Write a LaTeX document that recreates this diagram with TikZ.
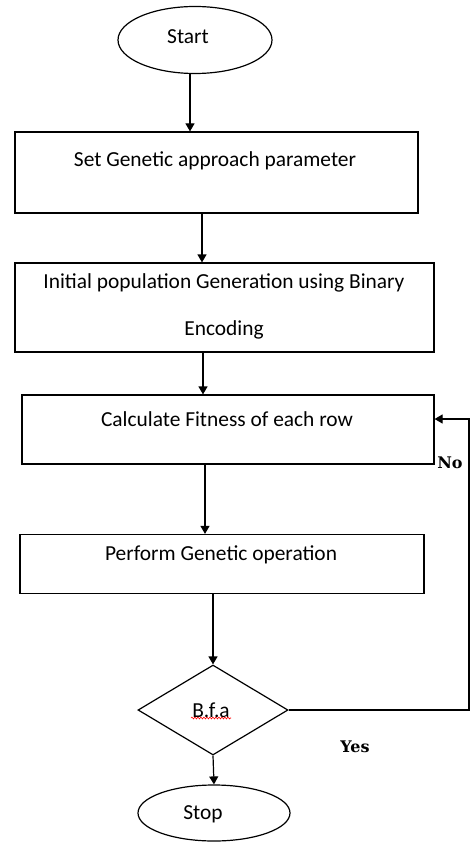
\documentclass[tikz,border=0pt]{standalone}
\usepackage{fontspec}
\setmainfont{Carlito}
\newfontfamily\lblfont{DejaVu Serif}
\usetikzlibrary{shapes.geometric,arrows.meta,decorations.pathmorphing}
\tikzset{
  boxnode/.style={draw, line width=1.2pt, rectangle, inner sep=0pt},
  txt/.style={inner sep=0pt, font=\fontsize{21.4}{25}\selectfont},
  lbl/.style={inner sep=0pt, font=\lblfont\bfseries\fontsize{16}{19}\selectfont},
  term/.style={draw, line width=1.2pt, ellipse, inner sep=0pt},
  arr/.style={line width=1.2pt, -{Triangle[width=9pt,length=8pt]}},
}
\begin{document}
\begin{tikzpicture}[x=1pt,y=-1pt]
\fill[white] (0,0) rectangle (471,845);
\useasboundingbox (0,0) rectangle (471,845);

\node[term, minimum width=154pt, minimum height=67pt] (start) at (195,40) {};
\node[txt] (tstart) at (188,37) {Start};

\node[boxnode, minimum width=403pt, minimum height=81pt] (box1) at (216.5,172.5) {};
\node[txt] (t1) at (215,161) {Set Genetic approach parameter};

\node[boxnode, minimum width=419pt, minimum height=89pt] (box2) at (224.5,307.5) {};
\node[txt] (t2a) at (224,283) {Initial population Generation using Binary};
\node[txt] (t2b) at (224,330) {Encoding};

\node[boxnode, minimum width=412pt, minimum height=69pt] (box3) at (228,429.5) {};
\node[txt] (t3) at (227,419) {Calculate Fitness of each row};

\node[boxnode, minimum width=404pt, minimum height=59pt] (box4) at (222,564) {};
\node[txt] (t4) at (221,555) {Perform Genetic operation};

\node[draw, line width=1.2pt, diamond, inner sep=0pt, minimum width=150pt, minimum height=90pt] (dec) at (213,710) {};
\node[txt] (tdec) at (211,710) {B.f.a};
\coordinate (wl) at (191,718);
\coordinate (wr) at (231,718);
\draw[red, line width=0.6pt, decorate, decoration={snake, amplitude=0.9pt, segment length=3pt}] (wl) -- (wr);

\node[term, minimum width=152pt, minimum height=56pt] (stop) at (214,813) {};
\node[txt] (tstop) at (203,814) {Stop};

\node[lbl] (no) at (450,463) {No};
\node[lbl] (yes) at (355,747) {Yes};

\coordinate (c1) at (190,0);
\coordinate (c2) at (202,0);
\coordinate (c3) at (203,0);
\coordinate (c4) at (205,0);
\coordinate (loopx) at (469,0);

\draw[arr] (start.south -| c1) -- (box1.north -| c1);
\draw[arr] (box1.south -| c2) -- (box2.north -| c2);
\draw[arr] (box2.south -| c3) -- (box3.north -| c3);
\draw[arr] (box3.south -| c4) -- (box4.north -| c4);
\draw[arr] (box4.south -| dec.north) -- (dec.north);
\draw[arr] (dec.south) -- (stop.north);
\draw[arr] (dec.east) -- (dec.east -| loopx) -- (loopx |- t3) -- (box3.east |- t3);
\end{tikzpicture}
\end{document}
